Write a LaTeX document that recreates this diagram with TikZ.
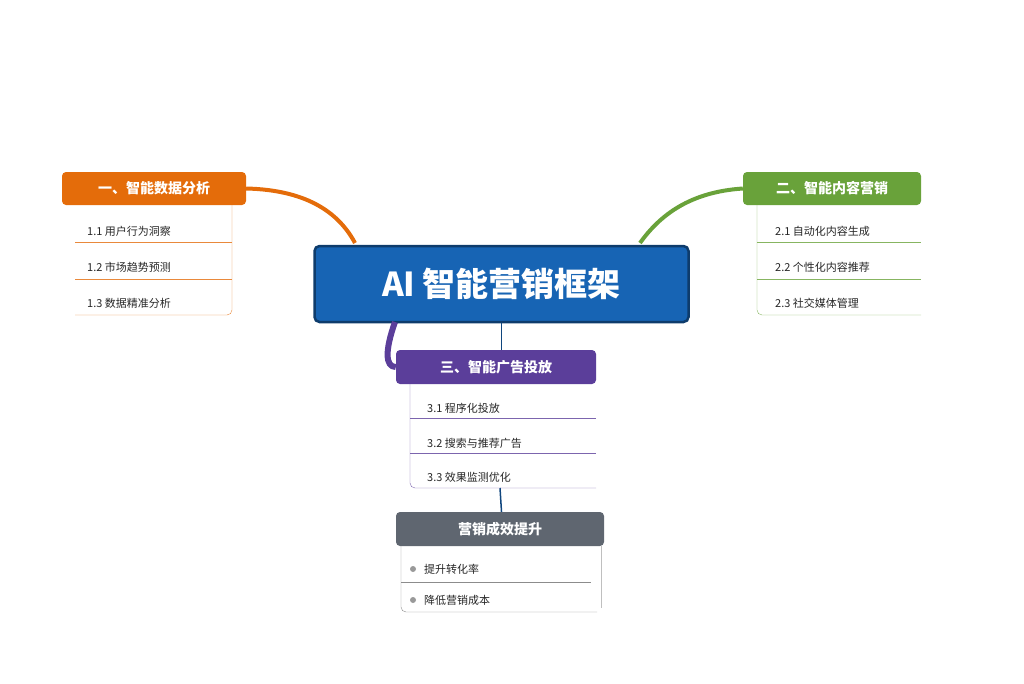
\documentclass[tikz,border=0pt]{standalone}
\usepackage{fontspec}
\setmainfont{Noto Sans CJK SC}
\begin{document}
\begin{tikzpicture}[x=1pt,y=-1pt,
  hdr/.style={rounded corners=4pt,text=white,font=\fontsize{14}{16}\selectfont\bfseries,inner sep=0pt},
  item/.style={anchor=west,font=\fontsize{11}{13}\selectfont,text=black!85,inner sep=0pt}]
\definecolor{corange}{HTML}{E46C0A}
\definecolor{cgreen}{HTML}{69A23A}
\definecolor{cpurple}{HTML}{5B3E9A}
\definecolor{cblue}{HTML}{1764B4}
\definecolor{cgray}{HTML}{5F6670}
\useasboundingbox (0,0) rectangle (1024,683);
% central
\node[draw=cblue!60!black,line width=2.5pt,fill=cblue,rounded corners=5pt,minimum width=374pt,minimum height=76pt,text=white,font=\fontsize{33}{36}\selectfont\bfseries] (c) at (501.5,284) {AI 智能营销框架};
% headers
\node[hdr,fill=corange,minimum width=184pt,minimum height=33pt] (h1) at (154,188.5) {一、智能数据分析};
\node[hdr,fill=cgreen,minimum width=178pt,minimum height=33pt] (h2) at (832,188.5) {二、智能内容营销};
\node[hdr,fill=cpurple,minimum width=200pt,minimum height=34pt] (h3) at (496,367) {三、智能广告投放};
\node[hdr,fill=cgray,minimum width=208pt,minimum height=34pt] (h4) at (500,529) {营销成效提升};
% connectors
\coordinate (c1) at (355,243);
\coordinate (c2) at (640,243);
\coordinate (c3) at (395,322);
\draw[corange,line width=4pt] (h1.east) .. controls (310,190) and (340,215) .. (c1);
\draw[cgreen,line width=4pt] (h2.west) .. controls (690,192) and (660,215) .. (c2);
\draw[cpurple,line width=6pt] (c3) .. controls (385,350) and (385,367) .. (h3.west);
\draw[cblue!70!black,line width=1.5pt] (c.south) -- (h3.north -| c.south);
\draw[cblue!70!black,line width=1.5pt] (500,384) ++(0,104) -- (h4.north -| c.south);
% list 1
\draw[corange!80] (232,205) -- (232,310) arc[start angle=0,end angle=90,radius=5] -- (75,315);
\draw[corange!80] (75,242) -- (232,242) (75,279) -- (232,279);
\node[item] (a1) at (87,231) {1.1 用户行为洞察};
\node[item] (a2) at (87,267) {1.2 市场趋势预测};
\node[item] (a3) at (87,303) {1.3 数据精准分析};
% list 2
\draw[cgreen!80] (757,205) -- (757,310) arc[start angle=180,end angle=90,radius=5] -- (921,315);
\draw[cgreen!80] (757,242) -- (921,242) (757,279) -- (921,279);
\node[item] (b1) at (775,231) {2.1 自动化内容生成};
\node[item] (b2) at (775,267) {2.2 个性化内容推荐};
\node[item] (b3) at (775,303) {2.3 社交媒体管理};
% list 3
\draw[cpurple!80] (410,384) -- (410,483) arc[start angle=180,end angle=90,radius=5] -- (596,488);
\draw[cpurple!80] (410,418) -- (596,418) (410,453) -- (596,453);
\node[item] (d1) at (427,408) {3.1 程序化投放};
\node[item] (d2) at (427,443) {3.2 搜索与推荐广告};
\node[item] (d3) at (427,477) {3.3 效果监测优化};
% list 4
\draw[black!45] (401,546) -- (401,607) arc[start angle=180,end angle=90,radius=5] -- (597,612);
\draw[black!25] (601,546) -- (601,608);
\draw[black!45] (401,582) -- (591,582);
\fill[black!40] (413,569) circle (3);
\fill[black!40] (413,600) circle (3);
\node[item] (e1) at (424,569) {提升转化率};
\node[item] (e2) at (424,600) {降低营销成本};
\end{tikzpicture}
\end{document}
